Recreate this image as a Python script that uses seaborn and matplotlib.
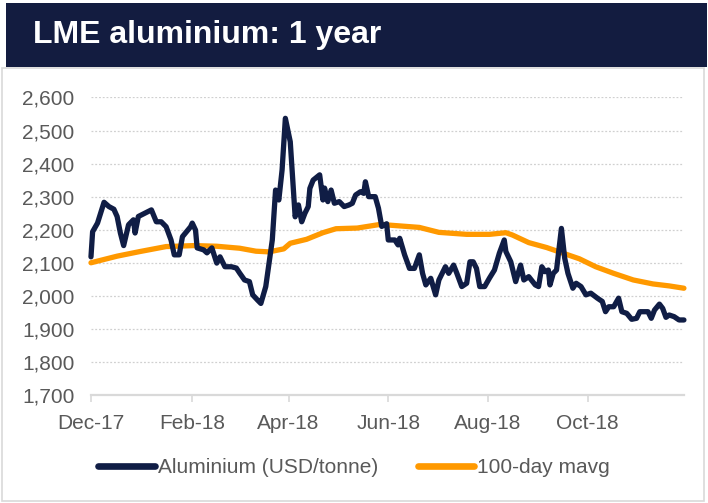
import pandas as pd
import matplotlib
matplotlib.use("Agg")
import matplotlib.pyplot as plt
import matplotlib.dates as mdates
from matplotlib.patches import Rectangle
from matplotlib.ticker import FuncFormatter
import seaborn as sns

# data (days counted from 1 Dec 2017)
start_date = "2017-12-01"
al_days = [0, 1, 4, 8, 11, 14, 16, 18, 20, 23, 26, 27, 29, 33, 37, 40, 43, 46, 49, 51,
           54, 56, 61, 62, 64, 65, 69, 71, 74, 77, 79, 82, 86, 89, 91, 94, 97, 99, 102, 104,
           107, 111, 113, 115, 117, 119, 122, 125, 127, 129, 131, 133, 134, 136, 140, 142, 143, 145, 147, 149,
           152, 155, 158, 160, 162, 165, 167, 168, 170, 174, 176, 178, 181, 182, 186, 188, 189, 192, 195, 198,
           201, 203, 205, 208, 211, 213, 217, 219, 222, 224, 227, 230, 232, 234, 236, 238, 241, 244, 247, 250,
           253, 254, 257, 260, 263, 265, 268, 272, 274, 276, 278, 280, 281, 283, 285, 288, 290, 292, 295, 297,
           300, 303, 306, 310, 313, 315, 317, 320, 323, 325, 328, 331, 334, 336, 339, 341, 343, 345, 348, 350,
           352, 354, 357, 360, 363]
al_price = [2118, 2194, 2220, 2283, 2270, 2262, 2240, 2190, 2152, 2215, 2230, 2190, 2240, 2250, 2260, 2224, 2224, 2209, 2169, 2124,
            2124, 2179, 2209, 2220, 2199, 2145, 2139, 2130, 2145, 2099, 2118, 2088, 2088, 2084, 2069, 2048, 2043, 2003, 1987, 1977,
            2028, 2169, 2320, 2290, 2381, 2537, 2466, 2239, 2275, 2224, 2250, 2270, 2325, 2350, 2366, 2290, 2326, 2285, 2320, 2280,
            2285, 2270, 2275, 2280, 2305, 2315, 2310, 2345, 2300, 2300, 2265, 2210, 2218, 2169, 2169, 2154, 2174, 2124, 2083, 2083,
            2124, 2068, 2033, 2053, 2003, 2048, 2088, 2068, 2093, 2068, 2028, 2038, 2103, 2103, 2083, 2028, 2028, 2054, 2078, 2129,
            2169, 2134, 2103, 2043, 2093, 2048, 2058, 2033, 2028, 2088, 2073, 2078, 2033, 2068, 2078, 2204, 2114, 2068, 2023, 2038,
            2028, 2003, 2008, 1993, 1983, 1952, 1967, 1967, 1993, 1952, 1947, 1929, 1932, 1952, 1952, 1952, 1932, 1957, 1975, 1962,
            1935, 1942, 1937, 1927, 1927]

mavg_days = [0, 16, 30, 46, 63, 77, 91, 101, 109, 118, 122, 132, 142, 150, 163, 177, 185, 201, 213, 230,
             244, 254, 258, 268, 279, 289, 299, 309, 320, 332, 344, 354, 363]
mavg_price = [2100, 2120, 2134, 2149, 2152, 2150, 2144, 2135, 2133, 2142, 2159, 2171, 2191, 2203, 2205, 2216, 2213, 2207, 2192, 2186,
              2186, 2191, 2184, 2161, 2146, 2129, 2112, 2088, 2068, 2048, 2036, 2030, 2023]

tick_dates = ["2017-12-01", "2018-02-01", "2018-04-01", "2018-06-01", "2018-08-01", "2018-10-01"]
y_ticks = [1700, 1800, 1900, 2000, 2100, 2200, 2300, 2400, 2500, 2600]

navy = "#101d45"
orange = "#ff9900"
grey_text = "#595959"

t0 = pd.Timestamp(start_date)
al = pd.DataFrame({"date": t0 + pd.to_timedelta(al_days, unit="D"), "price": al_price,
                   "series": "Aluminium (USD/tonne)"})
mv = pd.DataFrame({"date": t0 + pd.to_timedelta(mavg_days, unit="D"), "price": mavg_price,
                   "series": "100-day mavg"})
df = pd.concat([mv, al], ignore_index=True)

sns.set_theme(style="white")
plt.rcParams["font.family"] = ["Liberation Sans", "DejaVu Sans"]

fig = plt.figure(figsize=(7.08, 5.03), dpi=100)

# title banner and outer frame
fig.patches.append(Rectangle((0.003, 0.003), 0.992, 0.862, transform=fig.transFigure,
                             facecolor="none", edgecolor="#d9d9d9", lw=1.2, zorder=-1))
fig.patches.append(Rectangle((0.0085, 0.867), 0.99, 0.127, transform=fig.transFigure,
                             facecolor="#131c40", edgecolor="none", zorder=-1))
fig.text(0.047, 0.93, "LME aluminium: 1 year", color="white", fontsize=23,
         fontweight="bold", va="center", ha="left")

ax = fig.add_axes([0.1285, 0.2147, 0.8375, 0.5915])
ax.patch.set_alpha(0)
# mavg first so the price line sits on top of it
sns.lineplot(data=df, x="date", y="price", hue="series",
             palette={"Aluminium (USD/tonne)": navy, "100-day mavg": orange},
             linewidth=3.8, ax=ax, legend=False)
for line in ax.lines:
    line.set_solid_capstyle("round")
    line.set_solid_joinstyle("round")
    line.set_clip_on(False)

ax.set_ylim(1700, 2600)
ax.set_xlim(al["date"].iloc[0], al["date"].iloc[-1])
ax.set_yticks(y_ticks)
ax.yaxis.set_major_formatter(FuncFormatter(lambda v, p: f"{int(v):,}"))
ax.set_xticks(pd.to_datetime(tick_dates))
ax.xaxis.set_major_formatter(mdates.DateFormatter("%b-%y"))
ax.set_xlabel("")
ax.set_ylabel("")

for y in y_ticks[1:]:
    ax.axhline(y, color="#d0d0d0", lw=0.9, ls=(0, (1.5, 1.5)), zorder=0)

for s in ["top", "right", "left"]:
    ax.spines[s].set_visible(False)
ax.spines["bottom"].set_color("#d9d9d9")
ax.spines["bottom"].set_linewidth(1.6)
ax.tick_params(axis="y", length=0, pad=12, labelsize=15, labelcolor=grey_text)
ax.tick_params(axis="x", length=5, width=1.2, color="#d9d9d9", pad=9,
               labelsize=15, labelcolor=grey_text, bottom=True)

handles = [plt.Line2D([], [], color=navy, lw=4.8, solid_capstyle="round"),
           plt.Line2D([], [], color=orange, lw=4.8, solid_capstyle="round")]
leg = fig.legend(handles, ["Aluminium (USD/tonne)", "100-day mavg"], loc="center",
                 bbox_to_anchor=(0.5, 0.07), ncol=2, frameon=False, fontsize=15,
                 handlelength=2.7, handletextpad=0.15, columnspacing=1.9)
for t in leg.get_texts():
    t.set_color(grey_text)

fig.savefig("out.png", dpi=100)
